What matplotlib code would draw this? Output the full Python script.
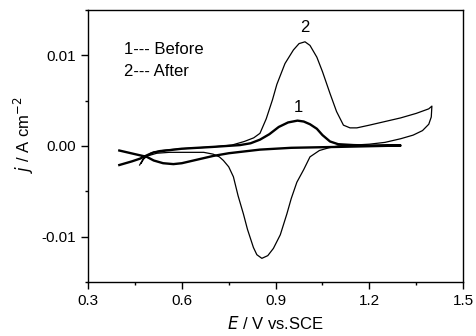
import matplotlib.pyplot as plt
from matplotlib.ticker import MultipleLocator, FormatStrFormatter

plt.rcParams["font.family"] = ["Liberation Sans", "DejaVu Sans"]
plt.rcParams["axes.unicode_minus"] = False

# curve 1 (before), thick line: anodic sweep then cathodic sweep
e1 = [0.40, 0.44, 0.466, 0.49, 0.51, 0.55, 0.60, 0.70, 0.786, 0.82, 0.85, 0.88,
      0.91, 0.94, 0.97, 0.99, 1.01, 1.032, 1.05, 1.074, 1.10, 1.15, 1.20, 1.30,
      1.10, 0.95, 0.85, 0.75, 0.70, 0.65, 0.60, 0.573, 0.54, 0.51, 0.488, 0.45, 0.40]
j1 = [-0.0021, -0.0017, -0.0014, -0.0010, -0.0007, -0.0005, -0.0003, -0.0001,
      0.0001, 0.0003, 0.0007, 0.0013, 0.0021, 0.0026, 0.0028, 0.0027, 0.0024,
      0.0019, 0.0012, 0.0005, 0.0002, 0.0001, 0.00005, 0.00005,
      -0.0001, -0.0002, -0.0004, -0.0008, -0.0011, -0.0015, -0.0019, -0.0020,
      -0.0019, -0.0016, -0.0012, -0.0009, -0.0005]

# curve 2 (after), thin line
e2 = [0.47, 0.48, 0.50, 0.53, 0.60, 0.70, 0.76, 0.80, 0.83, 0.85, 0.87, 0.89,
      0.904, 0.93, 0.957, 0.975, 0.994, 1.01, 1.032, 1.05, 1.074, 1.095, 1.117,
      1.138, 1.16, 1.20, 1.25, 1.30, 1.35, 1.39, 1.40,
      1.398, 1.39, 1.37, 1.34, 1.30, 1.25, 1.20, 1.15, 1.10, 1.07, 1.04, 1.01,
      0.99, 0.968, 0.95, 0.936, 0.915, 0.893, 0.875, 0.856, 0.84, 0.829, 0.81,
      0.797, 0.78, 0.765, 0.75, 0.733, 0.72, 0.70, 0.67, 0.62, 0.56, 0.52,
      0.49, 0.475, 0.465]
j2 = [-0.0019, -0.0013, -0.0008, -0.0005, -0.0003, -0.0001, 0.0001, 0.0005,
      0.0009, 0.0014, 0.0030, 0.0051, 0.0068, 0.0091, 0.0106, 0.0113, 0.0115,
      0.0111, 0.0098, 0.0082, 0.0058, 0.0038, 0.0023, 0.0020, 0.0020, 0.0023,
      0.0027, 0.0031, 0.0036, 0.0041, 0.0044,
      0.0032, 0.0024, 0.0017, 0.0012, 0.0008, 0.0004, 0.0002, 0.0001, 0.0,
      -0.0002, -0.0005, -0.0012, -0.0026, -0.0040, -0.0058, -0.0075, -0.0098,
      -0.0113, -0.0121, -0.0124, -0.0120, -0.0112, -0.0092, -0.0075, -0.0055,
      -0.0034, -0.0023, -0.0016, -0.0012, -0.0009, -0.0007, -0.0007, -0.0007,
      -0.0008, -0.0011, -0.0015, -0.0021]

fig = plt.figure(figsize=(4.76, 3.36), dpi=100)
ax = fig.add_axes([0.185, 0.161, 0.788, 0.809])

ax.plot(e2, j2, color="black", lw=0.9)
ax.plot(e1, j1, color="black", lw=1.7)

ax.set_xlim(0.3, 1.5)
ax.set_ylim(-0.015, 0.015)
ax.xaxis.set_major_locator(MultipleLocator(0.3))
ax.xaxis.set_minor_locator(MultipleLocator(0.15))
ax.yaxis.set_major_locator(MultipleLocator(0.01))
ax.yaxis.set_minor_locator(MultipleLocator(0.005))
ax.xaxis.set_major_formatter(FormatStrFormatter("%.1f"))
ax.yaxis.set_major_formatter(FormatStrFormatter("%.2f"))
ax.tick_params(which="both", direction="out", top=False, right=False,
               labelsize=11, width=1.0)
ax.tick_params(which="major", length=5, pad=4)
ax.tick_params(which="minor", length=2.5)
for s in ax.spines.values():
    s.set_linewidth(1.0)

ax.set_xlabel("$\\mathit{E}$ / V vs.SCE", fontsize=12, labelpad=5)
ax.set_ylabel("$\\mathit{j}$ / A cm$^{-2}$", fontsize=12)
ax.yaxis.set_label_coords(-0.14, 0.54)

ax.text(0.415, 0.0106, "1--- Before", fontsize=12, va="center")
ax.text(0.415, 0.0082, "2--- After", fontsize=12, va="center")
ax.text(0.994, 0.0131, "2", fontsize=12, ha="center", va="center")
ax.text(0.973, 0.0042, "1", fontsize=12, ha="center", va="center")

fig.savefig("out.png", dpi=100)
